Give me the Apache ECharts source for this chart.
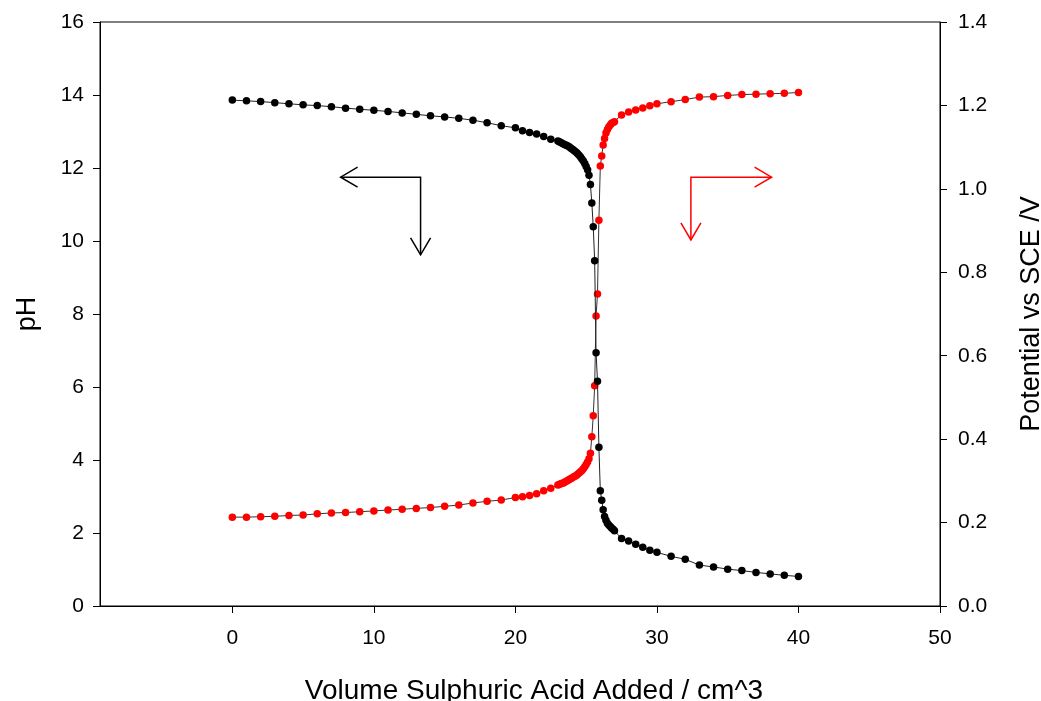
<!DOCTYPE html>
<html lang="en">
<head>
    <meta charset="UTF-8">
    <title>Titration curve</title>
    <script src="https://cdn.jsdelivr.net/npm/echarts@6/dist/echarts.min.js"></script>
</head>
<body style="margin:0;background:#fff;">
    <div id='main' style='width:1041px;height:701px;'></div>
    <script>
    // volume of acid added (cm^3), shared by both series
    var volume = [
        0, 1, 2, 3, 4, 5, 6, 7, 8, 9, 10, 11, 12, 13, 14, 15, 16, 17, 18, 19, 20,
        20.5, 21, 21.5, 22, 22.5,
        23.0, 23.1, 23.2, 23.3, 23.4, 23.5, 23.6, 23.7, 23.8, 23.9,
        24.0, 24.1, 24.2, 24.3, 24.4, 24.5, 24.6, 24.7, 24.8, 24.9,
        25.0, 25.1, 25.2, 25.3,
        25.4, 25.5, 25.6, 25.7, 25.8, 25.9, 26.0,
        26.1, 26.2, 26.3, 26.4, 26.5, 26.6, 26.7, 26.8, 26.9, 27.0,
        27.5, 28, 28.5, 29, 29.5, 30,
        31, 32, 33, 34, 35, 36, 37, 38, 39, 40
    ];
    // pH (left axis)
    var pH = [
        13.86, 13.84, 13.82, 13.79, 13.76, 13.73, 13.71, 13.68, 13.64, 13.61, 13.58,
        13.55, 13.51, 13.47, 13.43, 13.40, 13.36, 13.31, 13.24, 13.16, 13.10,
        13.02, 12.97, 12.93, 12.86, 12.79,
        12.74, 12.72, 12.70, 12.68, 12.66, 12.64, 12.62, 12.60, 12.58, 12.55,
        12.52, 12.49, 12.46, 12.43, 12.39, 12.35, 12.30, 12.25, 12.19, 12.12,
        12.04, 11.95, 11.80, 11.55,
        11.04, 10.39, 9.46, 6.94, 6.16, 4.35, 3.16,
        2.90, 2.64, 2.45, 2.35, 2.27, 2.22, 2.18, 2.14, 2.10, 2.06,
        1.85, 1.78, 1.69, 1.61, 1.53, 1.47,
        1.36, 1.28, 1.12, 1.07, 1.01, 0.97, 0.92, 0.88, 0.84, 0.81
    ];
    // potential vs SCE in V (right axis)
    var potential = [
        0.213, 0.213, 0.214, 0.215, 0.217, 0.218, 0.221, 0.223, 0.224, 0.226, 0.228,
        0.230, 0.232, 0.234, 0.236, 0.239, 0.242, 0.247, 0.251, 0.254, 0.260,
        0.262, 0.265, 0.269, 0.276, 0.282,
        0.290, 0.291, 0.293, 0.294, 0.295, 0.297, 0.299, 0.301, 0.303, 0.305,
        0.307, 0.309, 0.311, 0.313, 0.316, 0.319, 0.322, 0.325, 0.329, 0.334,
        0.339, 0.345, 0.353, 0.366,
        0.406, 0.456, 0.528, 0.695, 0.748, 0.925, 1.055,
        1.079, 1.105, 1.121, 1.134, 1.142, 1.148, 1.153, 1.157, 1.159, 1.161,
        1.177, 1.184, 1.189, 1.194, 1.199, 1.204,
        1.209, 1.214, 1.220, 1.221, 1.224, 1.226, 1.227, 1.228, 1.229, 1.231
    ];
    var xTicks = [0, 10, 20, 30, 40, 50];

    // direction arrows, in data coords [volume, pH]
    var blackArrow = [[7.65, 11.75], [13.3, 11.75], [13.3, 9.62]];
    var redArrow = [[38.1, 11.75], [32.4, 11.75], [32.4, 10.03]];

    var font = 'Liberation Sans, Arial, sans-serif';

    function pairs(ys) {
        return volume.map(function (v, i) { return [v, ys[i]]; });
    }

    var myChart = echarts.init(document.getElementById('main'));
    var option = {
        animation: false,
        backgroundColor: '#fff',
        textStyle: { fontFamily: font },
        grid: {
            left: 100, right: 101, top: 22, bottom: 95,
            outerBoundsMode: 'none',
            containLabel: false,
            show: true, borderColor: '#000', borderWidth: 1
        },
        xAxis: {
            type: 'value',
            min: -9.35, max: 50,
            name: 'Volume Sulphuric Acid Added / cm^3',
            nameLocation: 'middle',
            nameGap: 71,
            nameTextStyle: { fontSize: 28, color: '#000', fontFamily: font, padding: [0, 0, 0, 28] },
            axisLine: { show: true, onZero: false, lineStyle: { color: '#000', width: 1 } },
            axisTick: { show: true, inside: false, length: 7, customValues: xTicks, lineStyle: { color: '#000' } },
            axisLabel: { customValues: xTicks, fontSize: 21, color: '#000', margin: 22, fontFamily: font },
            splitLine: { show: false }
        },
        yAxis: [{
            type: 'value',
            min: 0, max: 16, interval: 2,
            position: 'left',
            name: 'pH',
            nameLocation: 'middle',
            nameRotate: 90,
            nameGap: 59,
            nameTextStyle: { fontSize: 27, color: '#000', fontFamily: font },
            axisLine: { show: true, onZero: false, lineStyle: { color: '#000', width: 1 } },
            axisTick: { show: true, inside: false, length: 7, lineStyle: { color: '#000' } },
            axisLabel: { fontSize: 21, color: '#000', margin: 16, fontFamily: font },
            splitLine: { show: false }
        }, {
            type: 'value',
            min: 0, max: 1.4, interval: 0.2,
            position: 'right',
            name: 'Potential vs SCE /V',
            nameLocation: 'middle',
            nameRotate: 90,
            nameGap: 78,
            nameTextStyle: { fontSize: 27, color: '#000', fontFamily: font },
            axisLine: { show: true, onZero: false, lineStyle: { color: '#000', width: 1 } },
            axisTick: { show: true, inside: false, length: 7, lineStyle: { color: '#000' } },
            axisLabel: {
                fontSize: 21, color: '#000', margin: 18, fontFamily: font,
                formatter: function (v) { return v.toFixed(1); }
            },
            splitLine: { show: false }
        }],
        series: [{
            name: 'pH',
            type: 'line',
            yAxisIndex: 0,
            data: pairs(pH),
            symbol: 'circle',
            symbolSize: 7.5,
            showAllSymbol: true,
            itemStyle: { color: '#000' },
            lineStyle: { color: '#222', width: 1 },
            z: 3
        }, {
            name: 'Potential',
            type: 'line',
            yAxisIndex: 1,
            data: pairs(potential),
            symbol: 'circle',
            symbolSize: 7.5,
            showAllSymbol: true,
            itemStyle: { color: '#ff0000' },
            lineStyle: { color: '#333', width: 1 },
            z: 2
        }]
    };
    myChart.setOption(option);

    // draw the L-shaped arrows with open heads
    function arrowShapes(pts, color) {
        var p = pts.map(function (d) { return myChart.convertToPixel({ xAxisIndex: 0, yAxisIndex: 0 }, d); });
        var out = [{
            type: 'polyline', shape: { points: p },
            style: { stroke: color, lineWidth: 1.5, fill: null }, z: 10
        }];
        // heads at both ends
        [[p[1], p[0]], [p[1], p[2]]].forEach(function (seg) {
            var a = seg[0], b = seg[1];
            var dx = b[0] - a[0], dy = b[1] - a[1];
            var len = Math.sqrt(dx * dx + dy * dy);
            var ux = dx / len, uy = dy / len;
            var hl = 17, hw = 10;
            out.push({
                type: 'polyline',
                shape: { points: [
                    [b[0] - ux * hl - uy * hw, b[1] - uy * hl + ux * hw],
                    b,
                    [b[0] - ux * hl + uy * hw, b[1] - uy * hl - ux * hw]
                ] },
                style: { stroke: color, lineWidth: 1.5, fill: null }, z: 10
            });
        });
        return out;
    }
    myChart.setOption({
        graphic: arrowShapes(blackArrow, '#000').concat(arrowShapes(redArrow, '#ff0000'))
    });
    </script>
</body>
</html>
